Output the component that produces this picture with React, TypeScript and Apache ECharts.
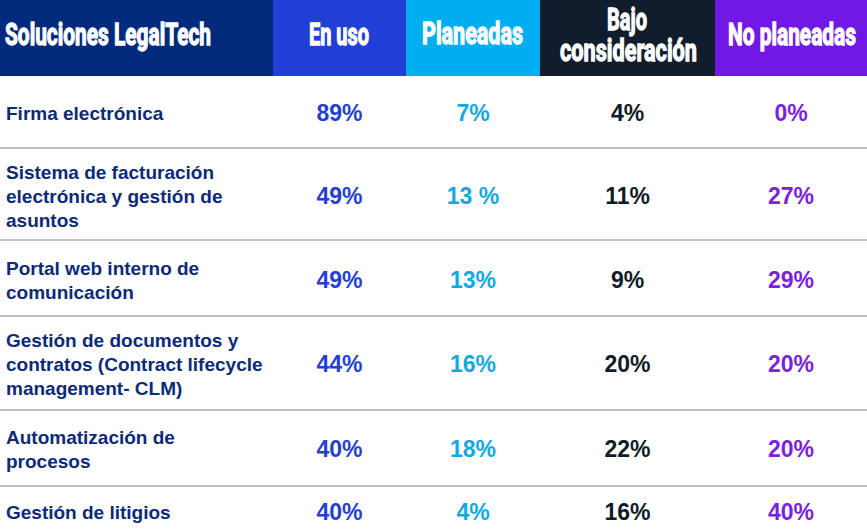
import React, { useEffect, useRef } from "react";
import * as echarts from "echarts";

// ---- data ----
const headerTitle = "Soluciones LegalTech";
const columnHeaders = ["En uso", "Planeadas", "Bajo\nconsideración", "No planeadas"];
const solutions = [
  "Firma electrónica",
  "Sistema de facturación\nelectrónica y gestión de\nasuntos",
  "Portal web interno de\ncomunicación",
  "Gestión de documentos y\ncontratos (Contract lifecycle\nmanagement- CLM)",
  "Automatización de\nprocesos",
  "Gestión de litigios",
];
const enUso = [89, 49, 49, 44, 40, 40];
const planeadas = [7, 13, 13, 16, 18, 4];
const bajoConsideracion = [4, 11, 9, 20, 22, 16];
const noPlaneadas = [0, 27, 29, 20, 20, 40];
// the source writes one cell with a space before the sign
const labelOverrides: Record<string, string> = { "1-1": "13 %" };

// ---- layout / style ----
const W = 867;
const H = 531;
const colEdges = [0, 273, 406, 540, 715, 867];
const headerH = 76;
const headerFills = ["#002a7c", "#1f3fd6", "#00aeef", "#0f1d2c", "#7218e6"];
const valueColors = ["#2440d2", "#12a9e3", "#111b27", "#7a22dc"];
const rowCenters = [113, 196, 280, 364, 449, 512];
const separators = [148, 240, 316, 410, 486];
const headerFont = "Roboto";
const headerSize = 31;

function measure(text: string, font: string): number {
  const ctx = document.createElement("canvas").getContext("2d");
  if (!ctx) return text.length * 10;
  ctx.font = font;
  return ctx.measureText(text).width;
}

function headerText(text: string, x: number, y: number, targetW: number, align: "left" | "center") {
  const w = measure(text, `bold ${headerSize}px ${headerFont}`);
  return {
    type: "text",
    x,
    y,
    scaleX: targetW / w,
    silent: true,
    style: {
      text,
      fill: "#ffffff",
      stroke: "#ffffff",
      lineWidth: 1.3,
      fontFamily: headerFont,
      fontWeight: "bold",
      fontSize: headerSize,
      align,
      verticalAlign: "middle",
    },
  };
}

export default function App() {
  const ref = useRef<HTMLDivElement>(null);

  useEffect(() => {
    if (!ref.current) return;
    const chart = echarts.init(ref.current, null, { renderer: "svg" });

    const graphics: any[] = [];
    // header backgrounds
    for (let i = 0; i < 5; i++) {
      graphics.push({
        type: "rect",
        silent: true,
        shape: { x: colEdges[i], y: 0, width: colEdges[i + 1] - colEdges[i], height: headerH },
        style: { fill: headerFills[i] },
      });
    }
    // header texts
    graphics.push(headerText(headerTitle, 5, 34, 206, "left"));
    graphics.push(headerText(columnHeaders[0], 339, 34, 60, "center"));
    graphics.push(headerText(columnHeaders[1], 472.5, 34, 101, "center"));
    const bajoParts = columnHeaders[2].split("\n");
    graphics.push(headerText(bajoParts[0], 627, 19, 40, "center"));
    graphics.push(headerText(bajoParts[1], 628.5, 51, 137, "center"));
    graphics.push(headerText(columnHeaders[3], 792, 34, 128, "center"));

    // separators
    separators.forEach((y) => {
      graphics.push({
        type: "line",
        silent: true,
        shape: { x1: 0, y1: y, x2: W, y2: y },
        style: { stroke: "#ababab", lineWidth: 1.6 },
      });
    });

    // row labels
    solutions.forEach((s, r) => {
      graphics.push({
        type: "text",
        x: 6,
        y: rowCenters[r],
        silent: true,
        style: {
          text: s,
          fill: "#0b2a78",
          fontFamily: "Liberation Sans",
          fontWeight: "bold",
          fontSize: 19,
          lineHeight: 24,
          align: "left",
          verticalAlign: "middle",
        },
      });
    });

    const cols = [enUso, planeadas, bajoConsideracion, noPlaneadas];
    const data: number[][] = [];
    solutions.forEach((_, r) => {
      cols.forEach((arr, c) => data.push([c, r, arr[r]]));
    });

    chart.setOption({
      animation: false,
      tooltip: { show: false },
      graphic: graphics,
      series: [
        {
          type: "custom",
          coordinateSystem: "none",
          silent: true,
          data,
          renderItem: (_params: any, api: any) => {
            const c = api.value(0) as number;
            const r = api.value(1) as number;
            const v = api.value(2) as number;
            const label = labelOverrides[`${r}-${c}`] ?? `${v}%`;
            return {
              type: "text",
              x: (colEdges[c + 1] + colEdges[c + 2]) / 2,
              y: rowCenters[r],
              style: {
                text: label,
                fill: valueColors[c],
                fontFamily: "Liberation Sans",
                fontWeight: "bold",
                fontSize: 23,
                align: "center",
                verticalAlign: "middle",
              },
            };
          },
        },
      ],
    });

    return () => chart.dispose();
  }, []);

  return (
    <div
      ref={ref}
      style={{ position: "absolute", left: 0, top: 0, width: W, height: H, background: "#ffffff" }}
    />
  );
}
